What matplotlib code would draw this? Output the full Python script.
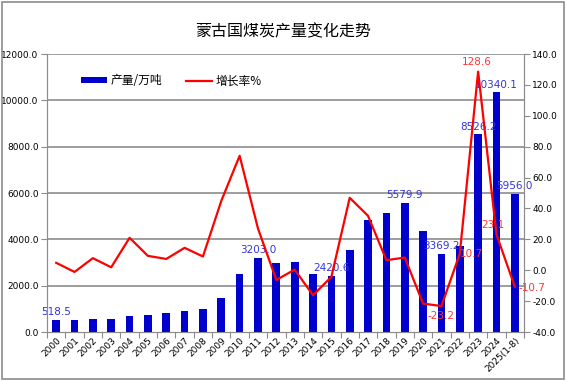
import matplotlib
matplotlib.use("Agg")
import matplotlib.pyplot as plt
from matplotlib.patches import Rectangle

plt.rcParams['font.family'] = ['Noto Sans CJK SC', 'DejaVu Sans']

years = ["2000", "2001", "2002", "2003", "2004", "2005", "2006", "2007", "2008", "2009",
         "2010", "2011", "2012", "2013", "2014", "2015", "2016", "2017", "2018", "2019",
         "2020", "2021", "2022", "2023", "2024", "2025(1-8)"]
output = [518.5, 520, 565, 565, 695, 754, 812, 913, 1000, 1449,
          2522, 3203.0, 3000, 3030, 2511, 2420.6, 3550, 4820, 5150, 5579.9,
          4372, 3369.2, 3730, 8526.2, 10340.1, 5956.0]
growth = [4.8, -1.1, 7.8, 1.9, 21.0, 9.3, 7.3, 14.5, 8.9, 44.9,
          74.1, 27.0, -6.3, 0.4, -16.2, -4.3, 46.9, 35.2, 6.5, 8.2,
          -21.6, -23.2, 10.7, 128.6, 23.1, -10.7]
bar_label_idx = [0, 11, 15, 19, 21, 23, 24, 25]
line_label_idx = [21, 22, 23, 24, 25]

W, H = 566, 381
fig = plt.figure(figsize=(W/100, H/100), dpi=100)
fig.patches.append(Rectangle((0.004, 0.006), 0.992, 0.988, transform=fig.transFigure,
                             fill=False, edgecolor='#8c8c8c', linewidth=1.2))

left, right, top, bottom = 47, 524, 54, 332
ax = fig.add_axes([left/W, 1-bottom/H, (right-left)/W, (bottom-top)/H])
ax2 = ax.twinx()
ax.set_zorder(1)
ax2.set_zorder(2)
ax.patch.set_visible(False)

x = list(range(len(years)))
ax.bar(x, output, width=0.42, color='#0000CC', label='产量/万吨', zorder=3)
ax.set_ylim(0, 12000)
ax.set_xlim(-0.5, len(years)-0.5)
ax.set_yticks(range(0, 12001, 2000))
ax.set_yticklabels([f"{v:.1f}" for v in range(0, 12001, 2000)], fontsize=6.5,
                   family='DejaVu Sans')
for yv in range(2000, 12001, 2000):
    ax.axhline(yv, color='#8c8c8c', linewidth=1.2, zorder=1)

ax.set_xticks([i - 0.5 for i in range(len(years)+1)], minor=False)
ax.set_xticklabels([])
ax.set_xticks(x, minor=True)
ax.set_xticklabels(years, minor=True, rotation=45, ha='right', rotation_mode='anchor',
                   fontsize=6.5, family='DejaVu Sans')
ax.tick_params(axis='x', which='minor', length=0, pad=3)
ax.tick_params(axis='x', which='major', length=4, color='#8c8c8c')
ax.tick_params(axis='y', length=4, color='#8c8c8c', pad=2)

ax2.plot(x, growth, color='#FF0000', linewidth=1.6, label='增长率%', zorder=4)
ax2.set_ylim(-40, 140)
ax2.set_yticks(range(-40, 141, 20))
ax2.set_yticklabels([f"{v:.1f}" for v in range(-40, 141, 20)], fontsize=6.5,
                    family='DejaVu Sans')
ax2.tick_params(axis='y', length=4, color='#8c8c8c', pad=2)

for a in (ax, ax2):
    for s in a.spines.values():
        s.set_color('#8c8c8c')
    a.spines['top'].set_visible(False)

for i in bar_label_idx:
    ax.text(x[i], output[i] + 120, f"{output[i]:.1f}", ha='center', va='bottom',
            fontsize=7.5, color='#3333DD', family='DejaVu Sans', zorder=5)
line_off = {21: (0.0, -3, 'top'), 22: (0.65, 0, 'center'), 23: (-0.1, 3, 'bottom'),
            24: (-0.2, 3, 'bottom'), 25: (0.95, -1, 'center')}
for i in line_label_idx:
    dx, dy, va = line_off[i]
    ax2.text(x[i] + dx, growth[i] + dy, f"{growth[i]:.1f}", ha='center', va=va,
             fontsize=7.5, color='#FF3333', family='DejaVu Sans', zorder=5)

h1, l1 = ax.get_legend_handles_labels()
h2, l2 = ax2.get_legend_handles_labels()
ax2.legend(h1 + h2, l1 + l2, loc='upper left', bbox_to_anchor=(0.05, 0.965), ncol=2,
           frameon=False, fontsize=8.5, handlelength=2.2, columnspacing=2.0,
           handleheight=0.45, handletextpad=0.3)

fig.text(0.5, 1 - 32/H, "蒙古国煤炭产量变化走势", ha='center', va='center', fontsize=11.5)

fig.savefig("out.png", dpi=100)
